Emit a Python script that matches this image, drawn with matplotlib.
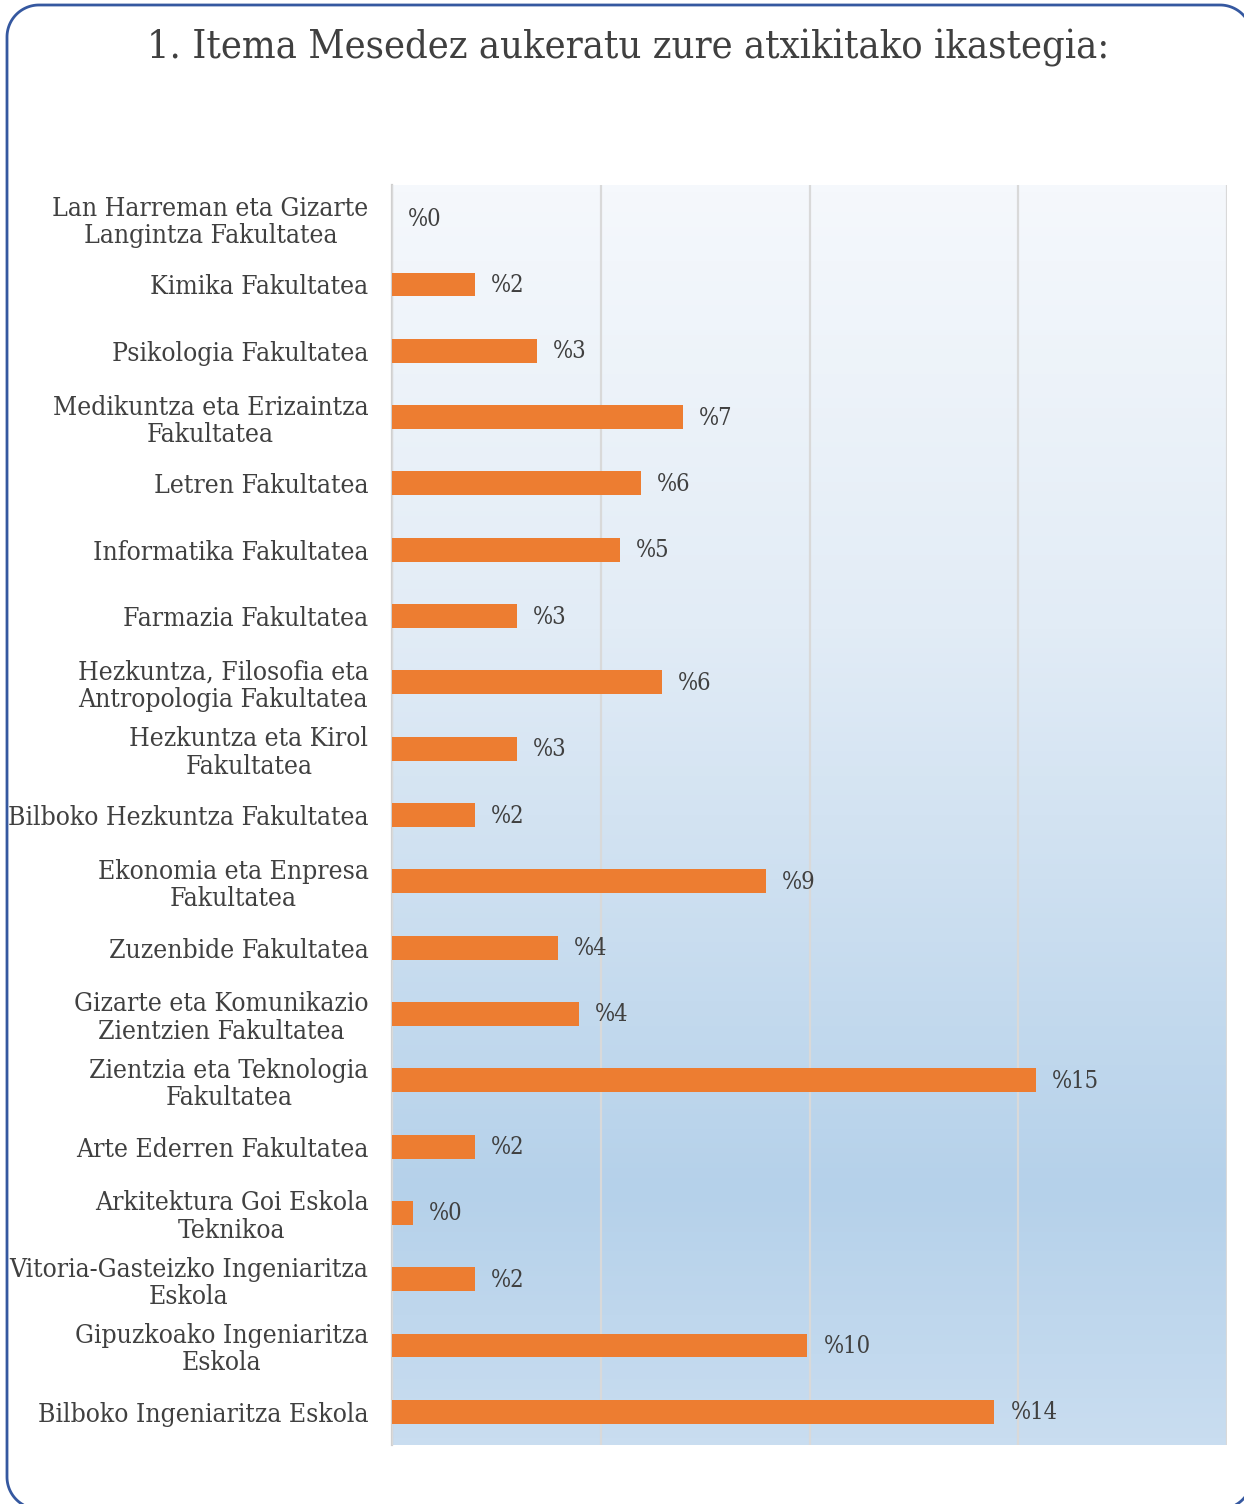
import matplotlib
matplotlib.use("Agg")
import matplotlib.pyplot as plt
import numpy as np
from matplotlib.patches import PathPatch
from matplotlib.path import Path
from matplotlib.colors import LinearSegmentedColormap

title = "1. Itema Mesedez aukeratu zure atxikitako ikastegia:"
categories = [
    "Lan Harreman eta Gizarte\nLangintza Fakultatea",
    "Kimika Fakultatea",
    "Psikologia Fakultatea",
    "Medikuntza eta Erizaintza\nFakultatea",
    "Letren Fakultatea",
    "Informatika Fakultatea",
    "Farmazia Fakultatea",
    "Hezkuntza, Filosofia eta\nAntropologia Fakultatea",
    "Hezkuntza eta Kirol\nFakultatea",
    "Bilboko Hezkuntza Fakultatea",
    "Ekonomia eta Enpresa\nFakultatea",
    "Zuzenbide Fakultatea",
    "Gizarte eta Komunikazio\nZientzien Fakultatea",
    "Zientzia eta Teknologia\nFakultatea",
    "Arte Ederren Fakultatea",
    "Arkitektura Goi Eskola\nTeknikoa",
    "Vitoria-Gasteizko Ingeniaritza\nEskola",
    "Gipuzkoako Ingeniaritza\nEskola",
    "Bilboko Ingeniaritza Eskola",
]
values = [0.0, 1.99, 3.48, 6.97, 5.97, 5.47, 2.99, 6.47, 2.99, 1.99,
          8.96, 3.98, 4.48, 15.42, 1.99, 0.50, 1.99, 9.95, 14.43]
xticks = [0, 5, 10, 15, 20]

FONT = dict(family="DejaVu Serif", stretch="condensed")
TXT = "#404040"

W, H, DPI = 1244, 1504, 100
fig = plt.figure(figsize=(W / DPI, H / DPI), dpi=DPI)

# rounded border, built in pixel units then converted to figure fraction
def rounded_rect(x0, y0, x1, y1, r):
    pts = []
    corners = [(x1 - r, y1 - r, 0, 90), (x0 + r, y1 - r, 90, 180),
               (x0 + r, y0 + r, 180, 270), (x1 - r, y0 + r, 270, 360)]
    for cx, cy, a0, a1 in corners:
        t = np.radians(np.linspace(a0, a1, 30))
        pts.extend(zip(cx + r * np.cos(t), cy + r * np.sin(t)))
    pts.append(pts[0])
    return np.array(pts)

pts = rounded_rect(7, H - 1509, 1252, H - 5, 32)
pts[:, 0] /= W
pts[:, 1] /= H
fig.patches.append(PathPatch(Path(pts), transform=fig.transFigure,
                             facecolor="none", edgecolor="#3558a0",
                             linewidth=2.0, zorder=5))

left, right = 392 / W, 1227 / W
bottom, top = (H - 1445) / H, (H - 185) / H
ax = fig.add_axes([left, bottom, right - left, top - bottom])

n = len(categories)
y = np.arange(n)

# gradient background
cmap = LinearSegmentedColormap.from_list(
    "bg", [(0.0, "#f5f8fc"), (0.35, "#e2ecf6"), (0.8, "#b5d1ea"), (1.0, "#c9ddf0")])
grad = np.linspace(0, 1, 256).reshape(-1, 1)
ax.imshow(grad, aspect="auto", cmap=cmap, extent=[0, 20, n - 0.5, -0.5],
          zorder=0, interpolation="bilinear")

ax.barh(y, values, height=0.36, color="#ed7d31", linewidth=0, zorder=3)

ax.set_xlim(0, 20)
ax.set_ylim(n - 0.5, -0.5)
ax.set_xticks(xticks)
ax.xaxis.grid(True, color="#d9d9d9", linewidth=1.6, zorder=1)
ax.set_axisbelow(False)
for g in ax.get_xgridlines():
    g.set_zorder(1)
ax.tick_params(axis="x", length=0, labelbottom=False)
ax.tick_params(axis="y", length=0, pad=17)
ax.set_yticks(y)
ax.set_yticklabels(categories, fontsize=19, color=TXT, multialignment="center",
                   linespacing=1.12, **FONT)
for s in ["top", "right", "bottom"]:
    ax.spines[s].set_visible(False)
ax.spines["left"].set_color("#d0d0d0")
ax.spines["left"].set_linewidth(1.6)

for yi, v in zip(y, values):
    ax.annotate(f"%{round(v):d}", (v, yi), xytext=(16, -1),
                textcoords="offset pixels", va="center", ha="left",
                fontsize=17, color=TXT, zorder=4, **FONT)

fig.text(628 / W, 1 - 48 / H, title, ha="center", va="center",
         fontsize=28.5, color=TXT, **FONT)

fig.savefig("out.png", dpi=DPI)
